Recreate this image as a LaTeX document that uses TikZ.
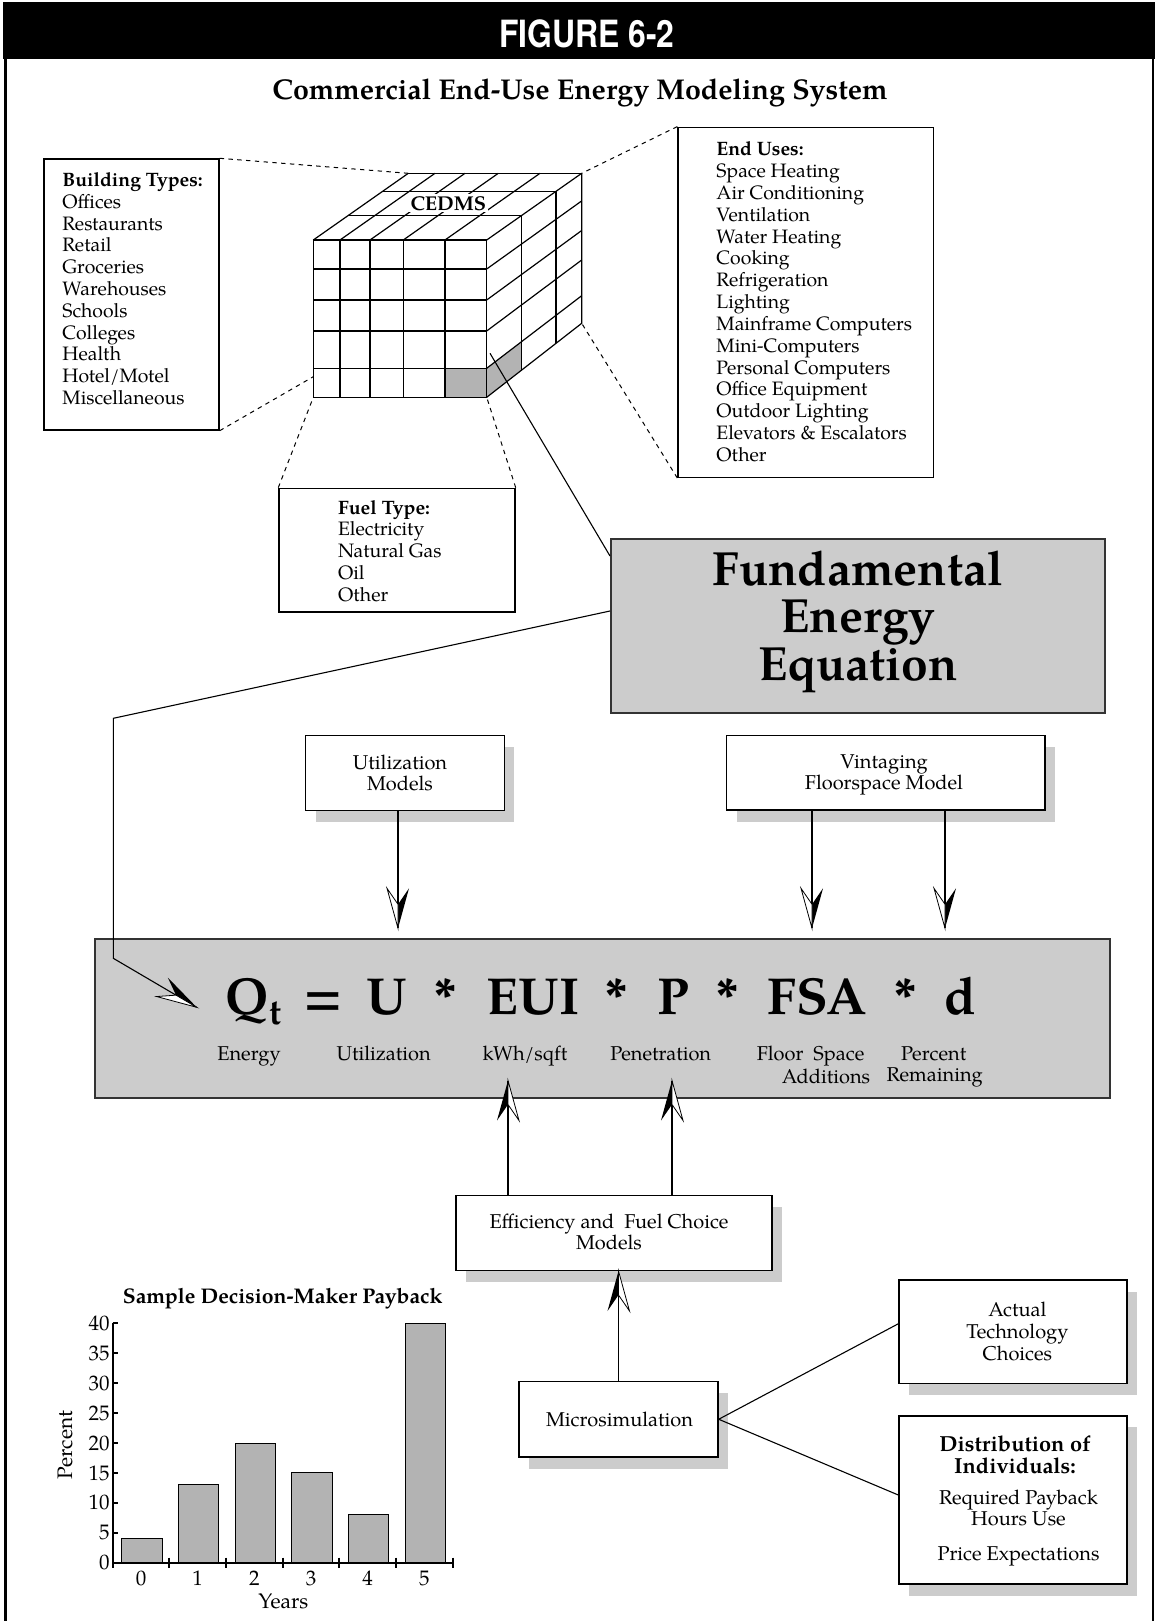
\documentclass[tikz,border=0pt]{standalone}
\usepackage{fontspec}
\IfFontExistsTF{TeX Gyre Pagella}{\setmainfont{TeX Gyre Pagella}}{\setmainfont{Liberation Serif}}
\newfontfamily\figfont[FakeStretch=0.85]{TeX Gyre Heros}
\usetikzlibrary{calc,shadows}
\definecolor{boxgray}{HTML}{CCCCCC}
\definecolor{bargray}{HTML}{B3B3B3}
\definecolor{edgegray}{HTML}{333333}
\newcommand\lst[1]{\parbox[t]{6cm}{\fontsize{9.7}{10.9}\selectfont\raggedright #1\par}}
\newcommand\halftip[2]{%
  \fill[black] (#1) -- ($(#1)!20pt!(#2)!5.5pt!90:(#1)$) -- ($(#1)!12pt!(#2)$) -- cycle;
  \filldraw[fill=white,draw=black,line width=0.4pt] (#1) -- ($(#1)!20pt!(#2)!5.5pt!-90:(#1)$) -- ($(#1)!12pt!(#2)$) -- cycle;
}
\tikzset{
  plain/.style={draw=black, line width=0.7pt, fill=white, inner sep=0pt},
  shbox/.style={plain, drop shadow={shadow xshift=5pt, shadow yshift=-5.75pt, fill=boxgray, opacity=1}},
  graybox/.style={draw=edgegray, fill=boxgray, line width=1pt, inner sep=0pt},
  conn/.style={line width=0.55pt},
  dashconn/.style={line width=0.5pt, dash pattern=on 2.2pt off 2.2pt},
  gridline/.style={line width=0.6pt},
  txt/.style={inner sep=0pt},
  ctxt/.style={inner sep=0pt, align=center, font=\fontsize{10}{10.5}\selectfont},
  eqsym/.style={inner sep=0pt, font=\fontsize{26}{26}\bfseries\selectfont, anchor=base},
  lab/.style={inner sep=0pt, font=\fontsize{10}{10}\selectfont, anchor=base},
  axnum/.style={inner sep=0pt, font=\fontsize{10.5}{10.5}\selectfont},
}
\begin{document}
\begin{tikzpicture}[x=0.5pt,y=-0.5pt]
\useasboundingbox (0,0) rectangle (1156,1621);
% ---------- frame and titles
\fill[black] (3,2) rectangle (1155,59.5);
\draw[line width=1.1pt] (5.5,59) -- (5.5,1621);
\draw[line width=1.1pt] (1153,59) -- (1153,1621);
\node[text=white, inner sep=0pt, anchor=base, font=\figfont\fontsize{18.75}{19}\bfseries\selectfont] (figtitle) at (587,47.6) {FIGURE 6-2};
\node[inner sep=0pt, anchor=base, font=\fontsize{14.3}{14.3}\bfseries\selectfont] (title) at (580,100) {Commercial End-Use Energy Modeling System};

% ---------- cube
\fill[bargray] (445,368.3) rectangle (486.7,397.3);
\fill[bargray] (486.7,368.3) -- (486.7,397.3) -- (521.85,369.9) -- (521.85,341.5) -- cycle;
\draw[gridline] (313.3,240) rectangle (486.7,397.3);
\foreach \c in {340,370,403.3,445} \draw[gridline] (\c,240) -- (\c,397.3);
\foreach \r in {269,300,331,368.3} \draw[gridline] (313.3,\r) -- (486.7,\r);
\foreach \c in {313.3,340,370,403.3,445,486.7} \draw[gridline] (\c,240) -- ({\c+95},173.3);
\draw[gridline] (408.3,173.3) -- (581.7,173.3);
\draw[gridline] (348.45,215.3) -- (521.85,215.3);
\draw[gridline] (382.65,191.3) -- (556.05,191.3);
\draw[gridline] (581.7,173.3) -- (581.7,323.3) -- (486.7,397.3);
\draw[gridline] (486.7,269) -- (581.7,200.9);
\draw[gridline] (486.7,300) -- (581.7,230.5);
\draw[gridline] (486.7,331) -- (581.7,260);
\draw[gridline] (486.7,368.3) -- (581.7,295.7);
\draw[gridline] (521.85,215.3) -- (521.85,369.9);
\draw[gridline] (556.05,191.3) -- (556.05,343.3);
\node[fill=white, inner sep=1pt, font=\fontsize{10}{10}\bfseries\selectfont] (cedms) at (448.3,203.3) {CEDMS};
\coordinate (cBTL) at (408.3,173.3);
\coordinate (cBTR) at (581.7,173.3);
\coordinate (cBBR) at (581.7,323.3);
\coordinate (cFBL) at (313.3,397.3);
\coordinate (cFBR) at (486.7,397.3);
\coordinate (cFLm) at (313.3,376.7);
\coordinate (cIn) at (490,353.3);

% ---------- list boxes
\node[plain, minimum width=87.5pt, minimum height=135.5pt] (bt) at (131.5,294.5) {};
\node[txt, anchor=base west] (bttxt) at (62,186.5) {\lst{\textbf{Building Types:}\\Offices\\Restaurants\\Retail\\Groceries\\Warehouses\\Schools\\Colleges\\Health\\Hotel/Motel\\Miscellaneous}};
\node[plain, minimum width=127.75pt, minimum height=175pt] (eu) at (805.75,302.3) {};
\node[txt, anchor=base west] (eutxt) at (716,156) {\lst{\textbf{End Uses:}\\Space Heating\\Air Conditioning\\Ventilation\\Water Heating\\Cooking\\Refrigeration\\Lighting\\Mainframe Computers\\Mini-Computers\\Personal Computers\\Office Equipment\\Outdoor Lighting\\Elevators \& Escalators\\Other}};
\node[plain, minimum width=118pt, minimum height=61.85pt] (fuel) at (397,550.15) {};
\node[txt, anchor=base west] (fueltxt) at (337.7,514) {\lst{\textbf{Fuel Type:}\\Electricity\\Natural Gas\\Oil\\Other}};

\draw[dashconn] (bt.north east) -- (cBTL);
\draw[dashconn] (bt.south east) -- (cFLm);
\draw[dashconn] (eu.north west) -- (cBTR);
\draw[dashconn] (eu.south west) -- (cBBR);
\draw[dashconn] (fuel.north west) -- (cFBL);
\draw[dashconn] (fuel.north east) -- (cFBR);

% ---------- fundamental energy equation
\node[graybox, minimum width=247pt, minimum height=87pt] (fund) at (858,626) {};
\node[txt, anchor=base] (fundtxt) at (858,585) {\parbox[t]{240pt}{\centering\fontsize{24}{23.75}\bfseries\selectfont Fundamental\\Energy\\Equation\par}};
\draw[conn] (cIn) -- ($(fund.north west)+(0,18)$);

% ---------- equation box
\node[graybox, minimum width=507.5pt, minimum height=79.5pt] (eq) at (602.5,1018.5) {};
\node[eqsym, anchor=base west] (sQ) at (225.4,1014) {Q{\fontsize{18}{18}\selectfont\raisebox{-5pt}{t}}};
\node[eqsym] (sEq) at (323.6,1014) {=};
\node[eqsym] (sU) at (386.7,1014) {U};
\node[eqsym] (sA1) at (445,1014) {*};
\node[eqsym] (sEUI) at (533,1014) {EUI};
\node[eqsym] (sA2) at (616,1014) {*};
\node[eqsym] (sP) at (673.6,1014) {P};
\node[eqsym] (sA3) at (727,1014) {*};
\node[eqsym] (sFSA) at (817,1014) {FSA};
\node[eqsym] (sA4) at (905,1014) {*};
\node[eqsym] (sd) at (960,1014) {d};
\node[lab] (lE) at (249,1060) {Energy};
\node[lab] (lU) at (383.6,1060) {Utilization};
\node[lab] (lK) at (525,1060) {kWh/sqft};
\node[lab] (lP) at (660.7,1060) {Penetration};
\node[lab] (lF) at (810.6,1060) {Floor\hspace{0.5em}Space};
\node[lab] (lA) at (826,1083) {Additions};
\node[lab] (lPc) at (933.7,1060) {Percent};
\node[lab] (lR) at (934.7,1081) {Remaining};

% connector fundamental -> Q
\coordinate (bend1) at (113.3,718.3);
\coordinate (bend2) at (113.3,958.3);
\coordinate (qTip) at (196.7,1007.3);
\draw[conn] ($(fund.north west)+(0,73)$) -- (bend1) -- (bend2) -- (qTip);
\halftip{qTip}{bend2}

% ---------- upper model boxes
\node[shbox, minimum width=99.3pt, minimum height=37.5pt] (ubox) at (405,773.2) {};
\node[ctxt] (utxt) at (400,772.5) {Utilization\\Models};
\node[shbox, minimum width=159.25pt, minimum height=37.15pt] (vbox) at (885.75,772.9) {};
\node[ctxt, font=\fontsize{10}{10.5}\selectfont] (vtxt) at (884,774.5) {Vintaging\\Floorspace Model};
\coordinate (uTip) at (398,928.3);
\coordinate (uFrom) at (uTip |- ubox.south);
\coordinate (v1Tip) at (812,928.3);
\coordinate (v1From) at (v1Tip |- vbox.south);
\coordinate (v2Tip) at (945,928.3);
\coordinate (v2From) at (v2Tip |- vbox.south);
\draw[conn] (uFrom) -- (uTip);
\draw[conn] (v1From) -- (v1Tip);
\draw[conn] (v2From) -- (v2Tip);
\halftip{uTip}{uFrom}
\halftip{v1Tip}{v1From}
\halftip{v2Tip}{v2From}

% ---------- lower model boxes
\node[shbox, minimum width=158pt, minimum height=37.4pt] (eff) at (614,1232.9) {};
\node[ctxt] (efftxt) at (609,1231.5) {Efficiency and\ \ Fuel Choice\\Models};
\coordinate (euiTip) at (508,1080.5);
\coordinate (euiFrom) at (euiTip |- eff.north);
\coordinate (pTip) at (672,1080.5);
\coordinate (pFrom) at (pTip |- eff.north);
\draw[conn] (euiFrom) -- (euiTip);
\draw[conn] (pFrom) -- (pTip);
\halftip{euiTip}{euiFrom}
\halftip{pTip}{pFrom}

\node[shbox, minimum width=99.5pt, minimum height=37.75pt] (micro) at (618.5,1419.25) {};
\node[ctxt] (microtxt) at (619.5,1419.3) {Microsimulation};
\coordinate (effTip) at (micro.north |- eff.south);
\draw[conn] (micro.north) -- (effTip);
\halftip{effTip}{micro.north}

\node[shbox, minimum width=114pt, minimum height=51.75pt] (actual) at (1013,1331.75) {};
\node[ctxt, font=\fontsize{10}{11}\selectfont] (actualtxt) at (1017.4,1331) {Actual\\Technology\\Choices};
\node[shbox, minimum width=114pt, minimum height=84.15pt] (dist) at (1013,1500) {};
\node[txt, anchor=base, font=\fontsize{10.9}{10.9}\bfseries\selectfont] (dist1) at (1015,1451.7) {Distribution of};
\node[txt, anchor=base, font=\fontsize{10.9}{10.9}\bfseries\selectfont] (dist2) at (1015,1473.3) {Individuals:};
\node[txt, anchor=base, font=\fontsize{10}{10}\selectfont] (dist3) at (1018.5,1504) {Required Payback};
\node[txt, anchor=base, font=\fontsize{10}{10}\selectfont] (dist4) at (1018.5,1525.7) {Hours Use};
\node[txt, anchor=base, font=\fontsize{10}{10}\selectfont] (dist5) at (1018.5,1560) {Price Expectations};
\draw[conn] ($(actual.west)+(0,-8)$) -- (micro.east) -- ($(dist.west)+(0,-5)$);

% ---------- bar chart
\node[txt, anchor=base, font=\fontsize{10.6}{10.6}\bfseries\selectfont] (ctitle) at (282.7,1303.3) {Sample Decision-Maker Payback};
\foreach \i/\v in {0/4,1/13,2/20,3/15,4/8,5/40}
  \filldraw[fill=bargray, line width=0.5pt] ({112.7+56.67*\i+9},1562.7) rectangle ({112.7+56.67*\i+49.5},{1562.7-5.983*\v});
\draw[line width=1.1pt] (112.7,1323.3) -- (112.7,1562.7) -- (453.3,1562.7);
\foreach \v in {0,5,...,40} {
  \draw[line width=1pt] (112.7,{1562.7-5.983*\v}) -- (117.5,{1562.7-5.983*\v});
  \node[axnum, anchor=east] (yl\v) at (110,{1562.7-5.983*\v}) {\v};
}
\foreach \i in {0,...,6}
  \draw[line width=1pt] ({112.7+56.67*\i},1557.5) -- ({112.7+56.67*\i},1568);
\foreach \i in {0,...,5}
  \node[axnum, anchor=base] (xl\i) at ({112.7+56.67*\i+28.3},1585) {\i};
\node[txt, anchor=base, font=\fontsize{10.5}{10.5}\selectfont] (years) at (283.3,1608.3) {Years};
\node[txt, rotate=90, font=\fontsize{10.5}{10.5}\selectfont] (percent) at (65,1445) {Percent};
\end{tikzpicture}
\end{document}
